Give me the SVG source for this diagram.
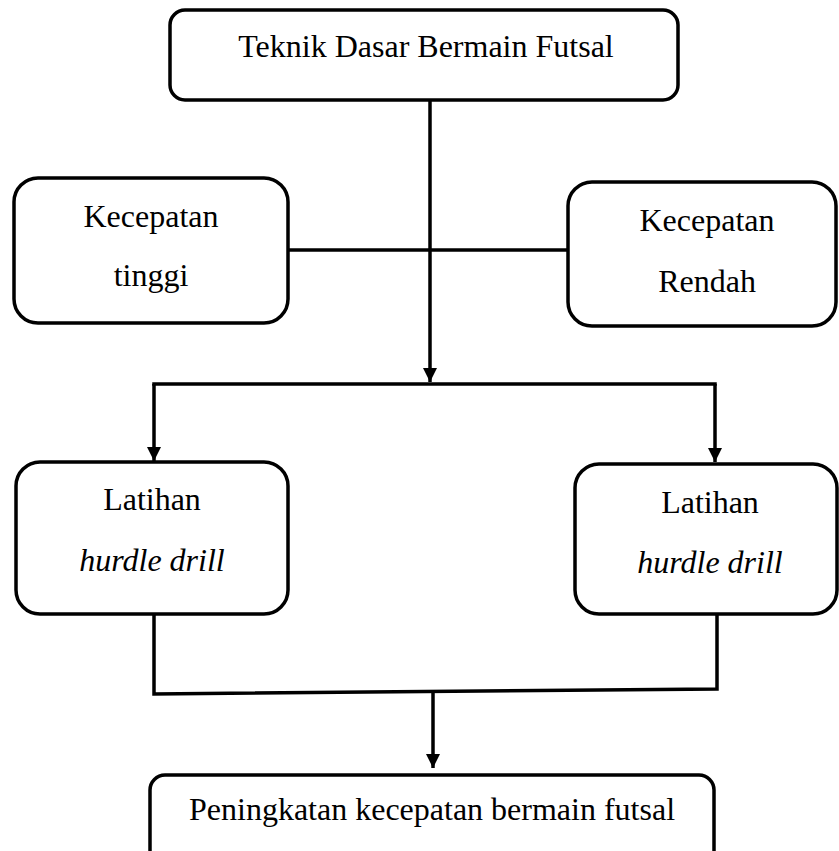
<svg xmlns="http://www.w3.org/2000/svg" width="839" height="851" viewBox="0 0 839 851">
<style>
.box{fill:#fff;stroke:#000;stroke-width:3.5}
.ln{fill:none;stroke:#000;stroke-width:3.5}
text{font-family:"Liberation Serif","Times New Roman",serif;font-size:32px;fill:#000;text-anchor:middle}
.it{font-style:italic}
</style>
<defs>
<marker id="ah" markerWidth="14" markerHeight="16" viewBox="0 0 14 16" refX="14" refY="8" orient="auto" markerUnits="userSpaceOnUse">
<path d="M0,1 L14,8 L0,15 Z" fill="#000"/>
</marker>
</defs>
<g id="connectors">
<line class="ln" x1="430" y1="100" x2="430" y2="382" marker-end="url(#ah)"/>
<line class="ln" x1="288" y1="250" x2="568" y2="250"/>
<line class="ln" x1="152.25" y1="384" x2="716.75" y2="384"/>
<line class="ln" x1="154" y1="384" x2="154" y2="461" marker-end="url(#ah)"/>
<line class="ln" x1="715" y1="384" x2="715" y2="462" marker-end="url(#ah)"/>
<polyline class="ln" points="154,614 154,694 717,689 717,614"/>
<line class="ln" x1="433" y1="692" x2="433" y2="768" marker-end="url(#ah)"/>
</g>
<g id="node-teknik">
<rect class="box" x="170" y="10" width="508" height="90" rx="15"/>
<text x="426" y="57">Teknik Dasar Bermain Futsal</text>
</g>
<g id="node-tinggi">
<rect class="box" x="14" y="178" width="274" height="145" rx="24"/>
<text x="151" y="227">Kecepatan</text>
<text x="151" y="286">tinggi</text>
</g>
<g id="node-rendah">
<rect class="box" x="568" y="182" width="268" height="144" rx="24"/>
<text x="707" y="231">Kecepatan</text>
<text x="707" y="292">Rendah</text>
</g>
<g id="node-latihan1">
<rect class="box" x="16" y="462" width="272" height="152" rx="24"/>
<text x="152" y="510">Latihan</text>
<text class="it" x="152" y="571">hurdle drill</text>
</g>
<g id="node-latihan2">
<rect class="box" x="575" y="464" width="262" height="150" rx="24"/>
<text x="710" y="513">Latihan</text>
<text class="it" x="710" y="573">hurdle drill</text>
</g>
<g id="node-peningkatan">
<rect class="box" x="150" y="775" width="564" height="100" rx="15"/>
<text x="432" y="820">Peningkatan kecepatan bermain futsal</text>
</g>
</svg>
